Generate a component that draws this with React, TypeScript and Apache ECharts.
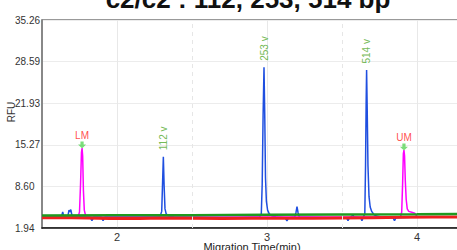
import React, { useEffect, useRef } from "react";
import * as echarts from "echarts";

const titleText = "c2/c2 : 112, 253, 514 bp";
const xName = "Migration Time(min)";
const yName = "RFU";

const xTicks = [2, 3, 4];
const xHalfTicks = [2.5, 3.5];
const yTicks = [1.94, 8.6, 15.27, 21.93, 28.59, 35.26];

// [migration time (min), RFU]
const blueTrace: number[][] = [
  [1.5, 3.7], [1.62, 3.7], [1.632, 3.9], [1.638, 4.5], [1.645, 3.8], [1.672, 3.8],
  [1.68, 4.8], [1.686, 4.5], [1.692, 4.9], [1.7, 3.9], [1.71, 3.7], [1.82, 3.7],
  [1.833, 3.1], [1.845, 3.7], [1.895, 3.7], [1.907, 3.1], [1.92, 3.7], [2.1, 3.7],
  [2.28, 3.75], [2.29, 4.0], [2.298, 4.6], [2.303, 8.5], [2.309, 13.36], [2.314, 8.8],
  [2.32, 5.0], [2.328, 4.2], [2.34, 3.9], [2.38, 3.7], [2.6, 3.6], [2.8, 3.6],
  [2.95, 3.7], [2.962, 4.2], [2.968, 9.0], [2.974, 20.0], [2.98, 27.68], [2.985, 20.0],
  [2.99, 10.0], [2.996, 6.2], [3.004, 4.8], [3.015, 4.2], [3.03, 3.9], [3.06, 3.7],
  [3.12, 3.6], [3.133, 3.1], [3.145, 3.6], [3.185, 3.7], [3.193, 4.4], [3.2, 5.35],
  [3.207, 4.4], [3.215, 3.7], [3.4, 3.6], [3.53, 3.6], [3.54, 3.1], [3.55, 3.6],
  [3.565, 3.8], [3.572, 4.1], [3.58, 3.7], [3.625, 3.6], [3.633, 3.1], [3.642, 3.7],
  [3.652, 4.2], [3.657, 12.0], [3.661, 22.0], [3.664, 27.25], [3.668, 21.0], [3.673, 12.0],
  [3.68, 7.0], [3.688, 5.3], [3.698, 4.6], [3.712, 4.1], [3.73, 3.85], [3.76, 3.7],
  [3.84, 3.6], [3.85, 3.1], [3.86, 3.6], [4.0, 3.7], [4.3, 3.7],
];

const magentaTrace: number[][] = [
  [1.5, 3.7], [1.74, 3.7], [1.75, 4.5], [1.757, 9.0], [1.763, 14.0], [1.767, 14.76],
  [1.771, 13.5], [1.776, 8.0], [1.782, 4.8], [1.79, 4.0], [1.81, 3.7], [2.5, 3.7],
  [3.2, 3.7], [3.89, 3.7], [3.898, 4.5], [3.904, 9.0], [3.909, 13.8], [3.913, 14.43],
  [3.917, 13.5], [3.922, 9.5], [3.928, 6.5], [3.935, 5.0], [3.945, 4.6], [3.965, 4.45],
  [3.985, 4.3], [4.0, 3.8], [4.3, 3.7],
];

const redTrace: number[][] = [
  [1.5, 3.6], [1.7, 3.6], [1.8, 3.55], [1.95, 3.45], [2.15, 3.45], [2.3, 3.55],
  [2.5, 3.5], [2.7, 3.45], [2.9, 3.5], [3.1, 3.5], [3.3, 3.5], [3.5, 3.55],
  [3.7, 3.6], [3.9, 3.65], [4.1, 3.7], [4.3, 3.7],
];

const greenTrace: number[][] = [
  [1.5, 3.95], [2.0, 4.0], [2.5, 4.0], [3.0, 4.05], [3.5, 4.1], [4.0, 4.15], [4.3, 4.2],
];

const peakNames = ["112 v", "253 v", "514 v"];
const peakTimes = [2.309, 2.98, 3.664];
const peakHeights = [13.36, 27.68, 27.25];

const markerNames = ["LM", "UM"];
const markerTimes = [1.767, 3.913];
const markerHeights = [14.76, 14.43];

const FONT = "'Liberation Sans', Arial, sans-serif";

export default function App() {
  const ref = useRef<HTMLDivElement>(null);
  useEffect(() => {
    if (!ref.current) return;
    const chart = echarts.init(ref.current, null, { renderer: "svg" });
    const option: any = {
      animation: false,
      textStyle: { fontFamily: FONT },
      grid: {
        left: 42, top: 20, right: -5, bottom: 22,
        show: true, borderColor: "#333", borderWidth: 1,
        outerBoundsMode: "none",
      },
      xAxis: {
        type: "value", min: 1.5, max: 4.3,
        name: xName, nameLocation: "middle", nameGap: 13, nameMoveOverlap: false,
        nameTextStyle: { fontSize: 11, color: "#222", fontFamily: FONT },
        axisLine: { show: true, lineStyle: { color: "#111", width: 1.5 } },
        axisTick: { show: false, customValues: xTicks },
        axisLabel: { customValues: xTicks, fontSize: 11, color: "#333", margin: 3, fontFamily: FONT,
          formatter: (v: number) => String(v) },
        splitLine: { show: true, lineStyle: { color: "#e8e8e8", width: 1 } },
      },
      yAxis: {
        type: "value", min: 1.94, max: 35.26,
        axisLine: { show: true, lineStyle: { color: "#888", width: 2 } },
        axisTick: { show: false, customValues: yTicks },
        axisLabel: { customValues: yTicks, align: "left", margin: 27, fontSize: 10, color: "#333",
          fontFamily: FONT, padding: [0, 0, 7, 0], formatter: (v: number) => v.toFixed(2) },
        splitLine: { show: true, lineStyle: { color: "#ececec", width: 1 } },
      },
      graphic: [
        { type: "text", x: 248, y: -1.5, silent: true,
          style: { text: titleText, fontSize: 26, fontWeight: "bold", fontFamily: FONT, fill: "#111",
            align: "center", verticalAlign: "middle" } },
        { type: "text", x: 11, y: 112, rotation: Math.PI / 2, silent: true,
          style: { text: yName, fontSize: 10, fontFamily: FONT, fill: "#333",
            align: "center", verticalAlign: "middle" } },
      ],
      series: [
        { type: "line", data: blueTrace, showSymbol: false, color: "#1f4fe0",
          lineStyle: { color: "#1f4fe0", width: 1.5 }, z: 2,
          markLine: {
            silent: true, symbol: "none", label: { show: false },
            lineStyle: { color: "#e6e6e6", type: [4, 4], width: 1 },
            data: xHalfTicks.map((v) => ({ xAxis: v })),
          },
        },
        { type: "line", data: magentaTrace, showSymbol: false, color: "#ff00ff",
          lineStyle: { color: "#ff00ff", width: 1.5 }, z: 3 },
        { type: "line", data: redTrace, showSymbol: false, color: "#ee2020",
          lineStyle: { color: "#ee2020", width: 3 }, z: 4 },
        { type: "line", data: greenTrace, showSymbol: false, color: "#1f9a1f",
          lineStyle: { color: "#1f9a1f", width: 2.5 }, z: 5 },
        {
          type: "scatter", z: 6, symbol: "circle", symbolSize: 1,
          itemStyle: { color: "rgba(0,0,0,0)" },
          data: peakNames.map((n, i) => ({ name: n, value: [peakTimes[i], peakHeights[i]] })),
          label: { show: true, formatter: "{b}", position: "top", distance: 6, rotate: 90,
            align: "left", verticalAlign: "middle", fontSize: 10, color: "#4fa82a", fontFamily: FONT },
        },
        {
          type: "scatter", z: 7,
          symbol: "path://M3,0L7,0L7,4L10,4L5,9L0,4L3,4Z", symbolSize: [8, 7], symbolOffset: [0, -3],
          itemStyle: { color: "#5ad45a" },
          data: markerNames.map((n, i) => ({ name: n, value: [markerTimes[i], markerHeights[i]] })),
          label: { show: true, formatter: "{b}", position: "top", distance: 1, fontSize: 10,
            color: "#ff2020", fontFamily: FONT },
        },
      ],
    };
    chart.setOption(option);
    return () => chart.dispose();
  }, []);
  return (
    <div ref={ref} style={{ position: "absolute", left: 0, top: 0, width: 457, height: 250 }} />
  );
}
